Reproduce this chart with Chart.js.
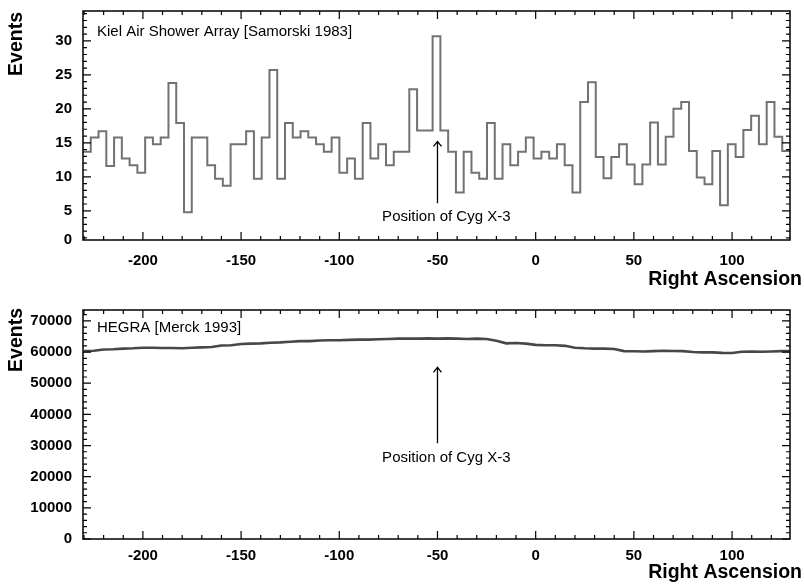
<!DOCTYPE html>
<html>
<head>
<meta charset="utf-8">
<script src="https://cdn.jsdelivr.net/npm/chart.js@4"></script>
<style>
  body { margin: 0; background: #fff; }
  #wrap { position: relative; width: 804px; height: 585px; }
  canvas { position: absolute; left: 0; }
</style>
</head>
<body>
<div id="wrap">
  <canvas id="kiel" width="804" height="292" style="top:0"></canvas>
  <canvas id="hegra" width="804" height="293" style="top:292px"></canvas>
</div>
<script>
const FONT = "'Liberation Sans', Arial, Helvetica, sans-serif";

// shared right ascension range
const RA_MIN = -230.5;
const RA_MAX = 129.5;

// Kiel air shower array: 91 bins across the axis
const KIEL_BIN = (RA_MAX - RA_MIN) / 91;
const kielCounts = [
  13.7, 15.8, 16.7, 11.6, 15.8, 12.7, 11.7, 10.6, 15.8, 14.8,
  15.8, 23.8, 17.9, 4.8, 15.8, 15.8, 11.7, 9.7, 8.7, 14.8,
  14.8, 16.7, 9.7, 15.8, 25.7, 9.7, 17.9, 15.8, 16.7, 15.8,
  14.8, 13.7, 15.8, 10.6, 12.7, 9.7, 17.9, 12.7, 14.8, 11.7,
  13.7, 13.7, 22.9, 16.8, 16.8, 30.7, 16.8, 13.7, 7.7, 13.7,
  10.6, 9.7, 17.9, 9.7, 14.8, 11.7, 13.7, 15.8, 12.7, 13.7,
  12.7, 14.8, 11.7, 7.7, 21.0, 23.9, 12.9, 9.8, 12.9, 14.8,
  11.8, 8.9, 11.8, 18.0, 11.8, 15.9, 20.0, 21.0, 13.8, 9.9,
  8.9, 13.8, 5.8, 14.8, 12.9, 16.9, 19.0, 14.8, 21.0, 15.9,
  13.8
];
const kielTicksY = [0.7, 5, 10, 15, 20, 25, 30];

// HEGRA
const hegraRA = [
  -230, -225, -220, -215, -210, -205, -200, -195, -190, -185,
  -180, -175, -170, -165, -160, -155, -150, -145, -140, -135,
  -130, -125, -120, -115, -110, -105, -100, -95, -90, -85,
  -80, -75, -70, -65, -60, -55, -50, -45, -40, -35,
  -30, -25, -20, -15, -10, -5, 0, 5, 10, 15,
  20, 25, 30, 35, 40, 45, 50, 55, 60, 65,
  70, 75, 80, 85, 90, 95, 100, 105, 110, 115,
  120, 125, 129.5
];
const hegraEvents = [
  60300, 60400, 60800, 60900, 61100, 61200, 61400, 61400, 61300, 61300,
  61200, 61400, 61500, 61600, 62100, 62200, 62600, 62700, 62800, 63000,
  63100, 63300, 63500, 63500, 63700, 63800, 63800, 63900, 64000, 64000,
  64100, 64200, 64300, 64300, 64300, 64400, 64300, 64400, 64300, 64200,
  64300, 64200, 63600, 62800, 62900, 62700, 62300, 62200, 62200, 62000,
  61400, 61200, 61100, 61100, 61000, 60300, 60250, 60200, 60300, 60400,
  60350, 60300, 60000, 59900, 59900, 59750, 59700, 60100, 60200, 60100,
  60200, 60300, 60350
];
const hegraTicksY = [0, 10000, 20000, 30000, 40000, 50000, 60000, 70000];

const CYG_RA = -50;

// kiel step outline: left edge of each bin, plus closing edge
const kielPoints = kielCounts.map((c, i) => ({ x: RA_MIN + i * KIEL_BIN, y: c }));
kielPoints.push({ x: RA_MAX, y: kielCounts[kielCounts.length - 1] });

const framePlugin = {
  id: 'frame',
  afterDraw(chart, args, o) {
    const { ctx, chartArea: a, scales: { x, y } } = chart;
    ctx.save();
    ctx.strokeStyle = '#000';
    ctx.lineWidth = 1.5;
    ctx.strokeRect(a.left, a.top, a.right - a.left, a.bottom - a.top);

    ctx.lineWidth = 1.2;
    ctx.beginPath();
    for (let v = Math.ceil(x.min / o.xMinor) * o.xMinor; v <= x.max; v += o.xMinor) {
      const px = x.getPixelForValue(v);
      const len = v % o.xMajor === 0 ? 8 : 4;
      ctx.moveTo(px, a.bottom); ctx.lineTo(px, a.bottom - len);
      ctx.moveTo(px, a.top); ctx.lineTo(px, a.top + len);
    }
    for (let v = Math.ceil(y.min / o.yMinor) * o.yMinor; v <= y.max; v += o.yMinor) {
      const py = y.getPixelForValue(v);
      const len = v % o.yMajor === 0 ? 8 : 4;
      ctx.moveTo(a.left, py); ctx.lineTo(a.left + len, py);
      ctx.moveTo(a.right, py); ctx.lineTo(a.right - len, py);
    }
    ctx.stroke();

    // label in the corner
    ctx.fillStyle = '#000';
    ctx.font = '15px ' + FONT;
    ctx.textAlign = 'left';
    ctx.textBaseline = 'middle';
    ctx.fillText(o.label, a.left + 14, a.top + o.labelDy);

    // arrow to Cyg X-3
    const ax = x.getPixelForValue(CYG_RA);
    const tip = y.getPixelForValue(o.arrowTip);
    const tail = y.getPixelForValue(o.arrowTail);
    ctx.lineWidth = 1.3;
    ctx.beginPath();
    ctx.moveTo(ax, tail); ctx.lineTo(ax, tip);
    ctx.moveTo(ax - 4, tip + 5); ctx.lineTo(ax, tip); ctx.lineTo(ax + 4, tip + 5);
    ctx.stroke();
    ctx.font = '15px ' + FONT;
    ctx.textAlign = 'center';
    ctx.fillText('Position of Cyg X-3', x.getPixelForValue(o.noteX), y.getPixelForValue(o.noteY));

    // axis titles
    ctx.font = 'bold 19.5px ' + FONT;
    ctx.textAlign = 'right';
    ctx.fillText('Right Ascension', 802, o.xTitleY);
    ctx.save();
    ctx.translate(17, o.yTitleTop);
    ctx.rotate(-Math.PI / 2);
    ctx.textAlign = 'right';
    ctx.fillText('Events', 0, 0);
    ctx.restore();
    ctx.restore();
  }
};

function xAxis(height, pad) {
  return {
    type: 'linear',
    min: RA_MIN,
    max: RA_MAX,
    grid: { display: false, drawTicks: false },
    border: { display: false },
    ticks: {
      stepSize: 50,
      includeBounds: false,
      maxRotation: 0,
      autoSkip: false,
      padding: pad,
      color: '#000',
      font: { family: FONT, size: 15, weight: 'bold' }
    },
    afterFit: (s) => {
      s.height = height;
      s.paddingLeft = 0;
      s.paddingRight = 0;
    }
  };
}

function yAxis(min, max, tickValues, label) {
  return {
    min: min,
    max: max,
    grid: { display: false, drawTicks: false },
    border: { display: false },
    afterBuildTicks: (s) => { s.ticks = tickValues.map((v) => ({ value: v })); },
    ticks: {
      padding: 11,
      color: '#000',
      autoSkip: false,
      font: { family: FONT, size: 15, weight: 'bold' },
      callback: label
    },
    afterFit: (s) => {
      s.width = 83;
      s.paddingTop = 0;
      s.paddingBottom = 0;
    }
  };
}

new Chart(document.getElementById('kiel'), {
  type: 'line',
  data: {
    datasets: [{
      data: kielPoints,
      stepped: 'before',
      borderColor: '#727272',
      borderWidth: 2,
      pointRadius: 0,
      fill: false
    }]
  },
  options: {
    responsive: false,
    animation: false,
    devicePixelRatio: 1,
    layout: { padding: { top: 11, right: 14, left: 0, bottom: 0 } },
    plugins: {
      legend: { display: false },
      tooltip: { enabled: false },
      frame: {
        xMinor: 10, xMajor: 50, yMinor: 1, yMajor: 5,
        label: 'Kiel Air Shower Array [Samorski 1983]', labelDy: 21,
        arrowTip: 15.2, arrowTail: 6.1, noteX: -45.5, noteY: 4.1,
        xTitleY: 280, yTitleTop: 12
      }
    },
    scales: {
      x: xAxis(52, 12),
      y: yAxis(0.7, 34.4, kielTicksY, (v) => (v < 1 ? '0' : String(v)))
    }
  },
  plugins: [framePlugin]
});

new Chart(document.getElementById('hegra'), {
  type: 'line',
  data: {
    datasets: [{
      data: hegraRA.map((r, i) => ({ x: r, y: hegraEvents[i] })),
      borderColor: '#474747',
      borderWidth: 2.6,
      pointRadius: 0,
      tension: 0,
      fill: false
    }]
  },
  options: {
    responsive: false,
    animation: false,
    devicePixelRatio: 1,
    layout: { padding: { top: 18, right: 14, left: 0, bottom: 0 } },
    plugins: {
      legend: { display: false },
      tooltip: { enabled: false },
      frame: {
        xMinor: 10, xMajor: 50, yMinor: 2000, yMajor: 10000,
        label: 'HEGRA [Merck 1993]', labelDy: 18,
        arrowTip: 55100, arrowTail: 30700, noteX: -45.5, noteY: 25900,
        xTitleY: 281, yTitleTop: 16
      }
    },
    scales: {
      x: xAxis(46, 8),
      y: yAxis(0, 73500, hegraTicksY, (v) => String(v))
    }
  },
  plugins: [framePlugin]
});
</script>
</body>
</html>
